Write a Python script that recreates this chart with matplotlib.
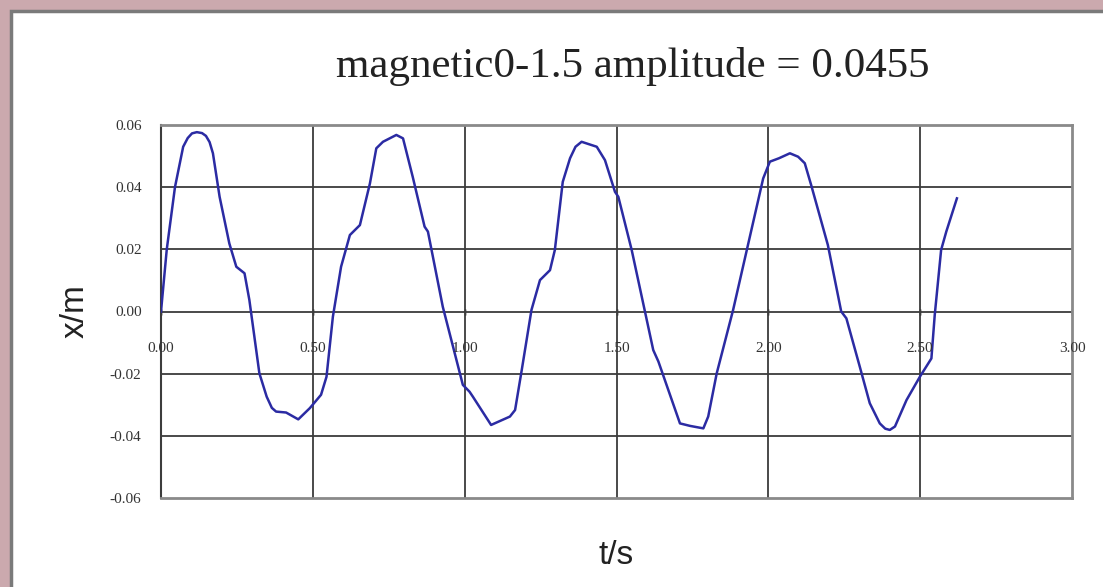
import matplotlib
matplotlib.use('Agg')
import matplotlib.pyplot as plt
import matplotlib.transforms as mtransforms
from matplotlib.patches import Rectangle

# --- datos ---
t = [0.000, 0.019, 0.046, 0.073, 0.088, 0.102, 0.118, 0.135, 0.148, 0.160, 0.171, 0.193,
     0.225, 0.248, 0.275, 0.291, 0.324, 0.348, 0.365, 0.379, 0.412, 0.452, 0.490,
     0.527, 0.545, 0.566, 0.593, 0.622, 0.655, 0.688, 0.709, 0.731, 0.775,
     0.797, 0.829, 0.868, 0.879, 0.928, 0.994, 1.016, 1.027, 1.087, 1.149,
     1.166, 1.188, 1.220, 1.248, 1.281, 1.297, 1.323, 1.347, 1.365, 1.385, 1.435,
     1.462, 1.495, 1.506, 1.550, 1.621, 1.638, 1.709, 1.742, 1.786, 1.802,
     1.830, 1.884, 1.939, 1.983, 2.005, 2.035, 2.071, 2.098, 2.120, 2.141,
     2.196, 2.240, 2.257, 2.301, 2.334, 2.367, 2.385, 2.400, 2.417, 2.455, 2.499,
     2.537, 2.548, 2.569, 2.586, 2.621]
x = [0.0000, 0.0200, 0.0400, 0.0530, 0.0558, 0.0573, 0.0577, 0.0574, 0.0565, 0.0545, 0.0509, 0.0369,
     0.0219, 0.0144, 0.0123, 0.0037, -0.0199, -0.0274, -0.0310, -0.0322, -0.0325, -0.0347, -0.0311,
     -0.0268, -0.0210, -0.0017, 0.0144, 0.0246, 0.0278, 0.0412, 0.0525, 0.0546, 0.0568,
     0.0557, 0.0433, 0.0273, 0.0257, 0.0015, -0.0236, -0.0258, -0.0274, -0.0365, -0.0338,
     -0.0317, -0.0188, 0.0005, 0.0101, 0.0133, 0.0198, 0.0417, 0.0493, 0.0530, 0.0546, 0.0530,
     0.0487, 0.0385, 0.0369, 0.0198, -0.0124, -0.0161, -0.0360, -0.0368, -0.0376, -0.0338,
     -0.0199, 0.0005, 0.0240, 0.0428, 0.0482, 0.0493, 0.0509, 0.0498, 0.0477, 0.0407,
     0.0214, 0.0000, -0.0022, -0.0177, -0.0295, -0.0360, -0.0377, -0.0381, -0.0370, -0.0285, -0.0210,
     -0.0151, -0.0011, 0.0198, 0.0257, 0.0364]

x_ticks = [0.0, 0.5, 1.0, 1.5, 2.0, 2.5, 3.0]
x_tick_labels = ['0.00', '0.50', '1.00', '1.50', '2.00', '2.50', '3.00']
y_ticks = [-0.06, -0.04, -0.02, 0.0, 0.02, 0.04, 0.06]
y_tick_labels = ['-0.06', '-0.04', '-0.02', '0.00', '0.02', '0.04', '0.06']

titulo = 'magnetic0-1.5 amplitude = 0.0455'

serif = ['Liberation Serif', 'DejaVu Serif']
narrow = ['Liberation Sans Narrow', 'Liberation Sans', 'DejaVu Sans']

# --- figura ---
fig = plt.figure(figsize=(11.03, 5.87), dpi=100)
fig.patch.set_facecolor('#cba9ae')

# panel blanco (detras de los ejes)
fig.patches.append(Rectangle((11 / 1103, -0.05), 1.2, 1 - 11 / 587 + 0.05,
                             transform=fig.transFigure, facecolor='white',
                             edgecolor='#7a7a7a', linewidth=2.5, zorder=-5))

# ejes: x 161..1072, y 125..498 (pixeles)
ax = fig.add_axes([161 / 1103, 1 - 498 / 587, (1072 - 161) / 1103, (498 - 125) / 587])
ax.set_zorder(2)
ax.set_facecolor('white')
ax.set_xlim(0, 3.0)
ax.set_ylim(-0.06, 0.06)

# rejilla
for xv in x_ticks[1:-1]:
    ax.axvline(xv, color='#3c3c3c', lw=1.3, zorder=1)
for yv in y_ticks[1:-1]:
    ax.axhline(yv, color='#3c3c3c', lw=1.3, zorder=1)

for s in ['top', 'right', 'bottom']:
    ax.spines[s].set_color('#8a8a8a')
    ax.spines[s].set_linewidth(2)
ax.spines['left'].set_color('#3c3c3c')
ax.spines['left'].set_linewidth(1.5)

ax.plot(t, x, color='#2b2ba3', lw=1.8, zorder=3, solid_joinstyle='round')

ax.set_xticks([])
ax.set_yticks(y_ticks)
ax.set_yticklabels(y_tick_labels, fontfamily=serif, fontsize=11, color='#333333')
ax.tick_params(axis='y', length=0, pad=14)

# etiquetas de x bajo la linea del cero
trans = mtransforms.offset_copy(ax.transData, fig=fig, x=0, y=-37, units='dots')
for xv, lab in zip(x_ticks, x_tick_labels):
    ax.text(xv, 0, lab, transform=trans, ha='center', va='center',
            fontfamily=serif, fontsize=11, color='#333333', clip_on=False)
    ax.plot([xv, xv], [0, 0], marker='|', color='#3c3c3c', ms=5, zorder=2)

fig.text(633 / 1103, 1 - 67 / 587, titulo, ha='center', va='center',
         fontfamily=serif, fontsize=31, color='#222222')
ax.set_xlabel('t/s', fontfamily=narrow, fontsize=24, color='#222222', labelpad=30)
ax.set_ylabel('x/m', fontfamily=narrow, fontsize=24, color='#222222', labelpad=14)

fig.savefig('out.png', dpi=100, facecolor=fig.get_facecolor())
